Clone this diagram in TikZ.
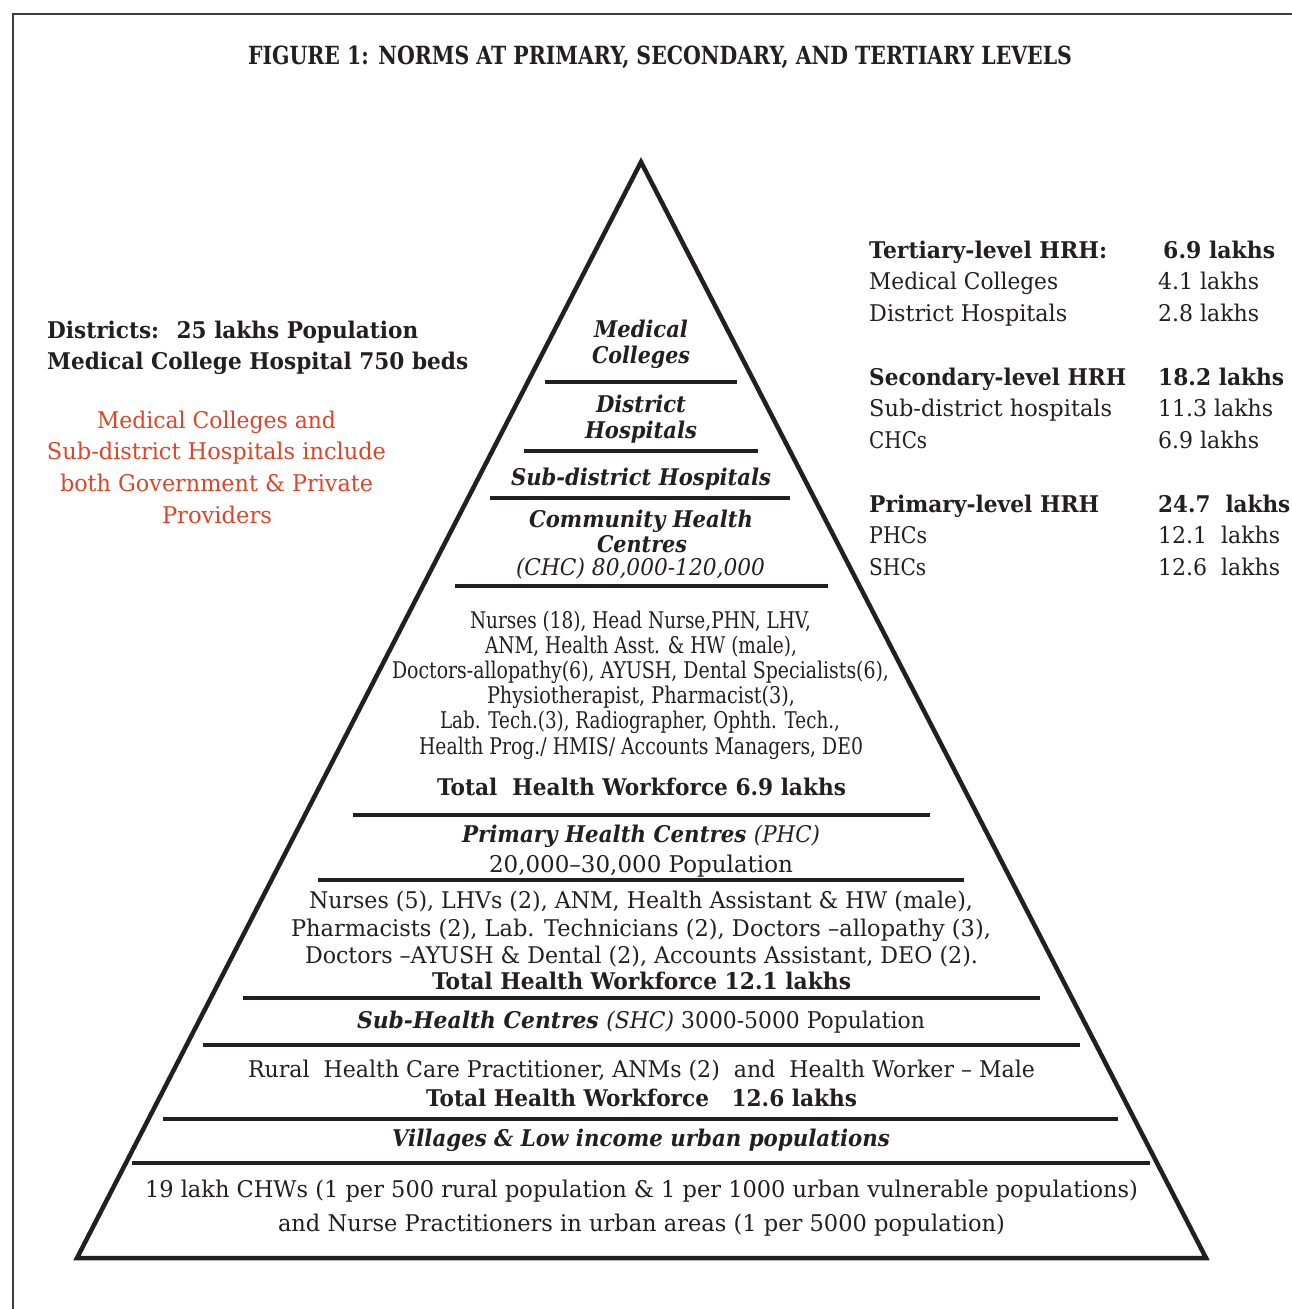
\documentclass[tikz,border=0pt]{standalone}
\usepackage{fontspec}
\setmainfont{DejaVu Serif}
\usepackage{graphicx}
\definecolor{ink}{RGB}{35,31,32}
\definecolor{framegray}{RGB}{60,60,60}
\definecolor{redtxt}{RGB}{222,68,38}
\newsavebox\fitbox
\newcommand\hfit[2]{\sbox\fitbox{#2}\pgfmathsetmacro\fitratio{#1/\the\wd\fitbox}\scalebox{\fitratio}[1]{\usebox\fitbox}}
\tikzset{
  txt/.style={anchor=base, inner sep=0pt, text=ink, font=\fontsize{23}{28}\selectfont},
  ltxt/.style={txt, anchor=base west},
  redline/.style={txt, text=redtxt},
  bar/.style={line width=4pt, draw=ink},
  outline/.style={line width=4.5pt, draw=ink, line join=miter},
  framestyle/.style={line width=2.5pt, draw=framegray},
}
\begin{document}
\begin{tikzpicture}[x=1pt, y=-1pt]
\useasboundingbox (0,0) rectangle (1292,1309);
% frame
\draw[framestyle] (13,1309) -- (13,14) -- (1292,14);
% title
\node[txt, font=\fontsize{25}{30}\selectfont\bfseries] (title) at (660,64) {\hfit{824}{FIGURE 1: NORMS AT PRIMARY, SECONDARY, AND TERTIARY LEVELS}};
% pyramid outline
\draw[outline] (641,162) -- (1206,1258) -- (77,1258) -- cycle;
% horizontal bars
\draw[bar] (545,382) -- (737,382);
\draw[bar] (524,451) -- (758,451);
\draw[bar] (490,498) -- (790,498);
\draw[bar] (455,586) -- (828,586);
\draw[bar] (353,815) -- (930,815);
\draw[bar] (318,880) -- (964,880);
\draw[bar] (243,998) -- (1040,998);
\draw[bar] (203,1045) -- (1080,1045);
\draw[bar] (163,1119) -- (1118,1119);
\draw[bar] (132,1163) -- (1150,1163);
% left block
\node[ltxt, font=\fontsize{23}{28}\selectfont\bfseries] (dist1) at (47,338) {\hfit{371}{Districts:~ 25 lakhs Population}};
\node[ltxt, font=\fontsize{23}{28}\selectfont\bfseries] (dist2) at (47,369) {\hfit{421}{Medical College Hospital 750 beds}};
\node[redline] (red1) at (216.5,428) {\hfit{239}{Medical Colleges and}};
\node[redline] (red2) at (216.5,459) {\hfit{339}{Sub-district Hospitals include}};
\node[redline] (red3) at (216.5,491) {\hfit{313}{both Government \& Private}};
\node[redline] (red4) at (217,523) {\hfit{110}{Providers}};
% right block
\node[ltxt, font=\fontsize{23}{28}\selectfont\bfseries] (r1) at (869,258) {\hfit{238}{Tertiary-level HRH:}};
\node[ltxt] (r2) at (869,289) {\hfit{189}{Medical Colleges}};
\node[ltxt] (r3) at (869,321) {\hfit{198}{District Hospitals}};
\node[ltxt, font=\fontsize{23}{28}\selectfont\bfseries] (r4) at (869,385) {\hfit{257}{Secondary-level HRH}};
\node[ltxt] (r5) at (869,416) {\hfit{243}{Sub-district hospitals}};
\node[ltxt] (r6) at (869,448) {\hfit{58}{CHCs}};
\node[ltxt, font=\fontsize{23}{28}\selectfont\bfseries] (r7) at (869,512) {\hfit{230}{Primary-level HRH}};
\node[ltxt] (r8) at (869,543) {\hfit{58}{PHCs}};
\node[ltxt] (r9) at (869,575) {\hfit{57}{SHCs}};
\node[ltxt, font=\fontsize{23}{28}\selectfont\bfseries] (v1) at (1163,258) {\hfit{112}{6.9 lakhs}};
\node[ltxt] (v2) at (1158,289) {\hfit{101}{4.1 lakhs}};
\node[ltxt] (v3) at (1158,321) {\hfit{101}{2.8 lakhs}};
\node[ltxt, font=\fontsize{23}{28}\selectfont\bfseries] (v4) at (1158,385) {\hfit{126}{18.2 lakhs}};
\node[ltxt] (v5) at (1158,416) {\hfit{115}{11.3 lakhs}};
\node[ltxt] (v6) at (1158,448) {\hfit{101}{6.9 lakhs}};
\node[ltxt, font=\fontsize{23}{28}\selectfont\bfseries] (v7) at (1158,512) {\hfit{132}{24.7~ lakhs}};
\node[ltxt] (v8) at (1158,543) {\hfit{122}{12.1~ lakhs}};
\node[ltxt] (v9) at (1158,575) {\hfit{122}{12.6~ lakhs}};
% pyramid tiers
\node[txt, font=\fontsize{23}{28}\selectfont\bfseries\itshape] (mc1) at (641,337) {\hfit{94}{Medical}};
\node[txt, font=\fontsize{23}{28}\selectfont\bfseries\itshape] (mc2) at (641,363) {\hfit{98}{Colleges}};
\node[txt, font=\fontsize{23}{28}\selectfont\bfseries\itshape] (dh1) at (641,412) {\hfit{90}{District}};
\node[txt, font=\fontsize{23}{28}\selectfont\bfseries\itshape] (dh2) at (641,438) {\hfit{112}{Hospitals}};
\node[txt, font=\fontsize{23}{28}\selectfont\bfseries\itshape] (sdh) at (641,485) {\hfit{260}{Sub-district Hospitals}};
\node[txt, font=\fontsize{23}{28}\selectfont\bfseries\itshape] (chc1) at (641,527) {\hfit{224}{Community Health}};
\node[txt, font=\fontsize{23}{28}\selectfont\bfseries\itshape] (chc2) at (642,552) {\hfit{90}{Centres}};
\node[txt, font=\fontsize{23}{28}\selectfont\itshape] (chc3) at (640.5,575) {\hfit{249}{(CHC) 80,000-120,000}};
% CHC staff
\node[txt] (cb1) at (640.5,628) {\hfit{341}{Nurses (18), Head Nurse,PHN, LHV,}};
\node[txt] (cb2) at (641,653) {\hfit{312}{ANM, Health Asst. \& HW (male),}};
\node[txt] (cb3) at (640.5,678) {\hfit{497}{Doctors-allopathy(6), AYUSH, Dental Specialists(6),}};
\node[txt] (cb4) at (641,703) {\hfit{308}{Physiotherapist, Pharmacist(3),}};
\node[txt] (cb5) at (640,728) {\hfit{400}{Lab. Tech.(3), Radiographer, Ophth. Tech.,}};
\node[txt] (cb6) at (641,754) {\hfit{444}{Health Prog./ HMIS/ Accounts Managers, DE0}};
\node[txt, font=\fontsize{23}{28}\selectfont\bfseries] (cbt) at (641.5,795) {\hfit{409}{Total~ Health Workforce 6.9 lakhs}};
% PHC
\node[txt] (phc1) at (641,842) {\hfit{358}{\bfseries\itshape Primary Health Centres \mdseries(PHC)}};
\node[txt] (phc2) at (641,872) {\hfit{304}{20,000–30,000 Population}};
\node[txt] (pb1) at (641,908) {\hfit{664}{Nurses (5), LHVs (2), ANM, Health Assistant \& HW (male),}};
\node[txt] (pb2) at (641,936) {\hfit{700}{Pharmacists (2), Lab. Technicians (2), Doctors –allopathy (3),}};
\node[txt] (pb3) at (641.5,963) {\hfit{673}{Doctors –AYUSH \& Dental (2), Accounts Assistant, DEO (2).}};
\node[txt, font=\fontsize{23}{28}\selectfont\bfseries] (pbt) at (641.5,989) {\hfit{419}{Total Health Workforce 12.1 lakhs}};
% SHC
\node[txt] (shc) at (641,1028) {\hfit{568}{\bfseries\itshape Sub-Health Centres \mdseries(SHC) \upshape 3000-5000 Population}};
\node[txt] (sb1) at (641.5,1077) {\hfit{787}{Rural~ Health Care Practitioner, ANMs (2)~ and~ Health Worker – Male}};
\node[txt, font=\fontsize{23}{28}\selectfont\bfseries] (sbt) at (641.5,1106) {\hfit{431}{Total Health Workforce~~ 12.6 lakhs}};
% villages
\node[txt, font=\fontsize{23}{28}\selectfont\bfseries\itshape] (vil) at (641,1146) {\hfit{498}{Villages \& Low income urban populations}};
\node[txt] (chw1) at (641.5,1197) {\hfit{993}{19 lakh CHWs (1 per 500 rural population \& 1 per 1000 urban vulnerable populations)}};
\node[txt] (chw2) at (641.5,1231) {\hfit{727}{and Nurse Practitioners in urban areas (1 per 5000 population)}};
\end{tikzpicture}
\end{document}
